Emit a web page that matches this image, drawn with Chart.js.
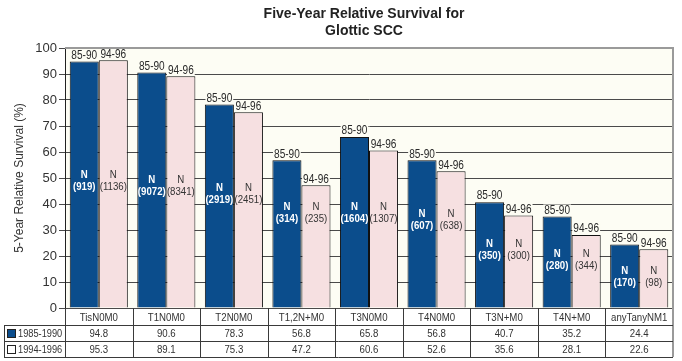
<!DOCTYPE html>
<html><head><meta charset="utf-8">
<script src="https://cdn.jsdelivr.net/npm/chart.js@4"></script>
<style>html,body{margin:0;padding:0;background:#fff;}#wrap{width:682px;height:361px;position:relative;}</style>
</head><body><div id="wrap"><canvas id="c" width="682" height="361"></canvas></div>
<script>
const categories = ['TisN0M0','T1N0M0','T2N0M0','T1,2N+M0','T3N0M0','T4N0M0','T3N+M0','T4N+M0','anyTanyNM1'];
const seriesNames = ['1985-1990','1994-1996'];
const periodTags = ['85-90','94-96'];
const survival1985 = [94.8,90.6,78.3,56.8,65.8,56.8,40.7,35.2,24.4];
const survival1994 = [95.3,89.1,75.3,47.2,60.6,52.6,35.6,28.1,22.6];
const n1985 = [919,9072,2919,314,1604,607,350,280,170];
const n1994 = [1136,8341,2451,235,1307,638,300,344,98];
const yTicks = [0,10,20,30,40,50,60,70,80,90,100];
const titleLines = ['Five-Year Relative Survival for','Glottic SCC'];
const yTitle = '5-Year Relative Survival (%)';

const BLUE = '#0b4d8c', PINK = '#f6e0e1', PLOTBG = '#fdfdf4', TXT = '#2a2a2a';
const FONT = '"Liberation Sans", Arial, sans-serif';
const SX = 0.84; // horizontal condensing for narrow lettering

function narrowText(ctx, text, x, y) {
  ctx.save();
  ctx.translate(x, y);
  ctx.scale(SX, 1);
  ctx.fillText(text, 0, 0);
  ctx.restore();
}

const decor = {
  id: 'decor',
  beforeDraw(chart) {
    const {ctx, chartArea: a} = chart;
    ctx.save();
    ctx.fillStyle = PLOTBG;
    ctx.fillRect(a.left, a.top, a.right - a.left, a.bottom - a.top);
    ctx.restore();
  },
  afterDatasetsDraw(chart, args, opts) {
    const {ctx} = chart;
    const ys = chart.scales.y;
    ctx.save();
    ctx.font = '12px ' + FONT;
    ctx.textAlign = 'center';
    ctx.textBaseline = 'bottom';
    chart.data.datasets.forEach((ds, di) => {
      const meta = chart.getDatasetMeta(di);
      meta.data.forEach((bar) => {
        const t = periodTags[di];
        const w = ctx.measureText(t).width * SX;
        const yb = bar.y - 1;
        ctx.fillStyle = PLOTBG;
        ctx.fillRect(bar.x - w/2 - 1, yb - 11, w + 2, 11);
        ctx.fillStyle = TXT;
        narrowText(ctx, t, bar.x, yb + 1);
      });
    });
    ctx.textBaseline = 'middle';
    const ns = [n1985, n1994];
    chart.data.datasets.forEach((ds, di) => {
      const meta = chart.getDatasetMeta(di);
      meta.data.forEach((bar, i) => {
        const cy = ys.getPixelForValue(opts.labelAt[i]);
        if (di === 0) { ctx.fillStyle = '#ffffff'; ctx.font = 'bold 11.5px ' + FONT; }
        else { ctx.fillStyle = '#333'; ctx.font = '11.5px ' + FONT; }
        narrowText(ctx, 'N', bar.x, cy - 6);
        narrowText(ctx, '(' + ns[di][i] + ')', bar.x, cy + 6);
      });
    });
    ctx.restore();
  },
  afterDraw(chart) {
    const {ctx, chartArea: a} = chart;
    ctx.save();
    ctx.strokeStyle = '#9a9a9a';
    ctx.lineWidth = 2;
    ctx.beginPath();
    ctx.moveTo(a.left, a.top);
    ctx.lineTo(a.right, a.top);
    ctx.lineTo(a.right, 357);
    ctx.stroke();
    ctx.fillStyle = '#222';
    ctx.font = 'bold 14px ' + FONT;
    ctx.textAlign = 'center';
    ctx.textBaseline = 'middle';
    ctx.fillText(titleLines[0], 364, 14);
    ctx.fillText(titleLines[1], 364, 31);
    const n = categories.length;
    const cw = (a.right - a.left) / n;
    const r0 = a.bottom, r1 = 325, r2 = 341, r3 = 357;
    ctx.strokeStyle = '#3a3a3a';
    ctx.lineWidth = 1;
    ctx.beginPath();
    ctx.moveTo(4, r1 + 0.5); ctx.lineTo(a.right, r1 + 0.5);
    ctx.moveTo(4, r2 + 0.5); ctx.lineTo(a.right, r2 + 0.5);
    ctx.moveTo(4, r3 + 0.5); ctx.lineTo(a.right, r3 + 0.5);
    ctx.moveTo(4.5, r1); ctx.lineTo(4.5, r3);
    for (let i = 0; i < n; i++) {
      const x = Math.round(a.left + i * cw) + 0.5;
      ctx.moveTo(x, r0); ctx.lineTo(x, r3);
    }
    ctx.stroke();
    ctx.fillStyle = '#333';
    ctx.font = '11.5px ' + FONT;
    ctx.textAlign = 'center';
    const xs = chart.scales.x;
    for (let i = 0; i < n; i++) {
      const cx = xs.getPixelForValue(i);
      narrowText(ctx, categories[i], cx, (r0 + r1) / 2 + 1);
      narrowText(ctx, survival1985[i].toFixed(1), cx, (r1 + r2) / 2 + 1);
      narrowText(ctx, survival1994[i].toFixed(1), cx, (r2 + r3) / 2 + 1);
    }
    ctx.fillStyle = BLUE;
    ctx.fillRect(7, 329, 9, 9);
    ctx.strokeStyle = '#222';
    ctx.strokeRect(7.5, 329.5, 8, 8);
    ctx.fillStyle = '#fff';
    ctx.fillRect(7, 345, 9, 9);
    ctx.strokeRect(7.5, 345.5, 8, 8);
    ctx.fillStyle = '#333';
    ctx.font = '11px ' + FONT;
    ctx.textAlign = 'left';
    narrowText(ctx, seriesNames[0], 18, (r1 + r2) / 2 + 1);
    narrowText(ctx, seriesNames[1], 18, (r2 + r3) / 2 + 1);
    ctx.restore();
  }
};

new Chart(document.getElementById('c'), {
  type: 'bar',
  data: {
    labels: categories,
    datasets: [
      { label: seriesNames[0], data: survival1985, backgroundColor: BLUE, borderColor: '#111', borderWidth: 1 },
      { label: seriesNames[1], data: survival1994, backgroundColor: PINK, borderColor: '#111', borderWidth: 1 }
    ]
  },
  options: {
    responsive: false,
    animation: false,
    devicePixelRatio: 1,
    layout: { padding: { top: 48, right: 9, left: 0, bottom: 0 } },
    datasets: { bar: { categoryPercentage: 0.86, barPercentage: 1.0 } },
    plugins: {
      legend: { display: false },
      tooltip: { enabled: false },
      title: { display: false },
      decor: { labelAt: [49, 47, 44, 36.7, 36.7, 34, 22.4, 18.5, 12] }
    },
    scales: {
      x: {
        ticks: { display: false },
        grid: { display: false },
        border: { display: false },
        afterFit(s) { s.height = 53; }
      },
      y: {
        min: 0, max: 100,
        afterBuildTicks(s) { s.ticks = yTicks.map(v => ({ value: v })); },
        ticks: { color: '#333', font: { family: FONT, size: 13 }, padding: 2 },
        grid: { color: '#4a4a4a', tickLength: 6, lineWidth: 1 },
        border: { display: true, color: '#222' },
        title: { display: true, text: yTitle, color: '#333', font: { family: FONT, size: 12 }, padding: { top: 12, bottom: 0 } },
        afterFit(s) { s.width = 65; }
      }
    }
  },
  plugins: [decor]
});
</script>
</body></html>
